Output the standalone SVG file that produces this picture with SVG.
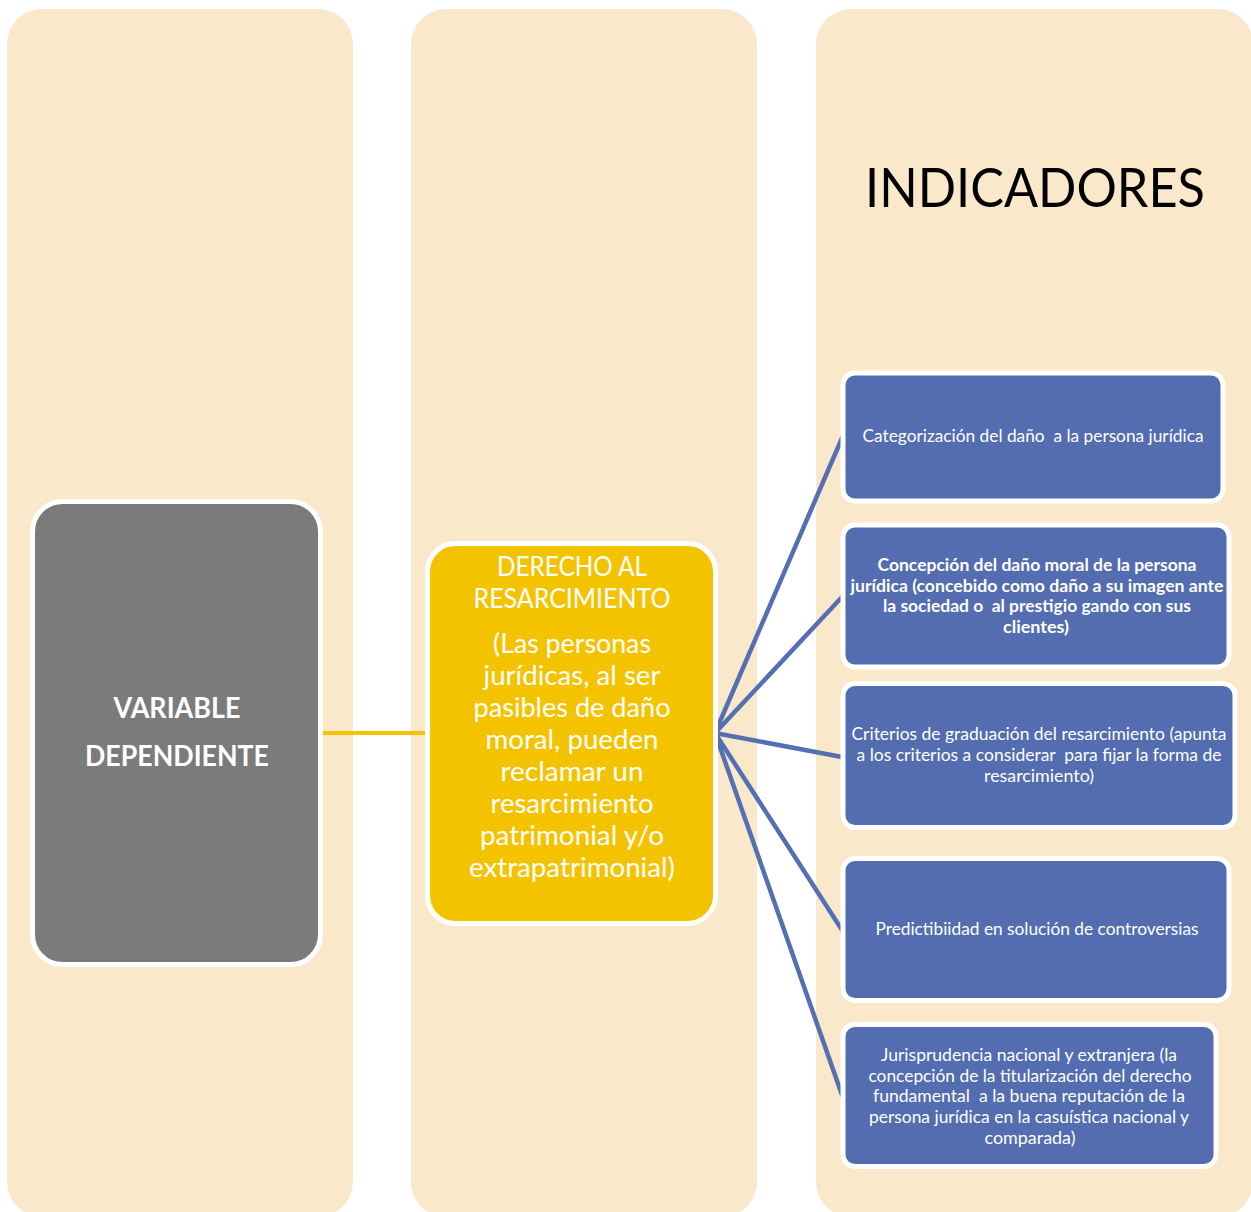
<svg xmlns="http://www.w3.org/2000/svg" width="1251" height="1212" viewBox="0 0 1251 1212">
<style>
.col{fill:#FAE8CB}
.blue{fill:#536DB0;stroke:#FFFFFF;stroke-width:5}
.wt{fill:#FFFFFF;font-family:Lato,"Liberation Sans",sans-serif;text-anchor:middle;white-space:pre}
.bt{font-size:16.5px}
.bb{font-size:16.5px;font-weight:bold}
.conn{stroke:#5470B3;stroke-width:4.5;fill:none;stroke-linecap:round}
</style>
<rect width="1251" height="1212" fill="#FFFFFF"/>
<g id="columns">
<rect class="col" x="7" y="9" width="346" height="1208" rx="35"/>
<rect class="col" x="411" y="9" width="346" height="1208" rx="35"/>
<rect class="col" x="816" y="9" width="437" height="1208" rx="35"/>
</g>
<g id="title">
<text x="1035" y="207" font-family="Lato,'Liberation Sans',sans-serif" font-size="54" fill="#000000" text-anchor="middle" textLength="340" lengthAdjust="spacingAndGlyphs">INDICADORES</text>
</g>
<g id="connectors">
<line x1="321" y1="733" x2="426" y2="733" stroke="#F4C300" stroke-width="4"/>
<line class="conn" x1="715" y1="733" x2="842" y2="438"/>
<line class="conn" x1="715" y1="733" x2="842" y2="597"/>
<line class="conn" x1="715" y1="733" x2="842" y2="757"/>
<line class="conn" x1="715" y1="733" x2="842" y2="930"/>
<line class="conn" x1="715" y1="733" x2="842" y2="1095"/>
</g>
<g id="variable">
<rect x="32.5" y="501.5" width="288" height="463" rx="30" fill="#7B7B7B" stroke="#FFFFFF" stroke-width="5"/>
<text class="wt" x="177" y="718" font-size="28" font-weight="bold" textLength="127" lengthAdjust="spacingAndGlyphs">VARIABLE</text>
<text class="wt" x="177" y="766" font-size="28" font-weight="bold" textLength="184" lengthAdjust="spacingAndGlyphs">DEPENDIENTE</text>
</g>
<g id="derecho">
<rect x="427.5" y="543.5" width="288" height="380" rx="28" fill="#F4C300" stroke="#FFFFFF" stroke-width="5"/>
<text class="wt" x="572" y="576" font-size="26" textLength="150" lengthAdjust="spacingAndGlyphs">DERECHO AL</text>
<text class="wt" x="572" y="608" font-size="26" textLength="197" lengthAdjust="spacingAndGlyphs">RESARCIMIENTO</text>
<text class="wt" x="572" y="653" font-size="27" textLength="158" lengthAdjust="spacingAndGlyphs">(Las personas</text>
<text class="wt" x="572" y="685" font-size="27" textLength="177" lengthAdjust="spacingAndGlyphs">jurídicas, al ser</text>
<text class="wt" x="572" y="717" font-size="27" textLength="197" lengthAdjust="spacingAndGlyphs">pasibles de daño</text>
<text class="wt" x="572" y="749" font-size="27" textLength="173" lengthAdjust="spacingAndGlyphs">moral, pueden</text>
<text class="wt" x="572" y="781" font-size="27" textLength="143" lengthAdjust="spacingAndGlyphs">reclamar un</text>
<text class="wt" x="572" y="813" font-size="27" textLength="163" lengthAdjust="spacingAndGlyphs">resarcimiento</text>
<text class="wt" x="572" y="845" font-size="27" textLength="184" lengthAdjust="spacingAndGlyphs">patrimonial y/o</text>
<text class="wt" x="572" y="877" font-size="27" textLength="206" lengthAdjust="spacingAndGlyphs">extrapatrimonial)</text>
</g>
<g id="ind1">
<rect class="blue" x="843" y="373" width="380" height="128" rx="12"/>
<text class="wt bt" x="1033" y="442" textLength="341" lengthAdjust="spacingAndGlyphs">Categorización del daño  a la persona jurídica</text>
</g>
<g id="ind2">
<rect class="blue" x="843" y="525" width="386" height="142" rx="12"/>
<text class="wt bb" x="1037" y="571" textLength="319" lengthAdjust="spacingAndGlyphs">Concepción del daño moral de la persona</text>
<text class="wt bb" x="1037" y="592" textLength="373" lengthAdjust="spacingAndGlyphs">jurídica (concebido como daño a su imagen ante</text>
<text class="wt bb" x="1037" y="612" textLength="308" lengthAdjust="spacingAndGlyphs">la sociedad o  al prestigio gando con sus</text>
<text class="wt bb" x="1036" y="633" textLength="66" lengthAdjust="spacingAndGlyphs">clientes)</text>
</g>
<g id="ind3">
<rect class="blue" x="843" y="683.5" width="392" height="144" rx="12"/>
<text class="wt bt" x="1039" y="740" textLength="375" lengthAdjust="spacingAndGlyphs">Criterios de graduación del resarcimiento (apunta</text>
<text class="wt bt" x="1039" y="761" textLength="365" lengthAdjust="spacingAndGlyphs">a los criterios a considerar  para fijar la forma de</text>
<text class="wt bt" x="1039" y="782" textLength="110" lengthAdjust="spacingAndGlyphs">resarcimiento)</text>
</g>
<g id="ind4">
<rect class="blue" x="843" y="858.5" width="386" height="142" rx="12"/>
<text class="wt bt" x="1037" y="935" textLength="323" lengthAdjust="spacingAndGlyphs">Predictibiidad en solución de controversias</text>
</g>
<g id="ind5">
<rect class="blue" x="843" y="1024.5" width="373" height="142" rx="12"/>
<text class="wt bt" x="1029" y="1061" textLength="296" lengthAdjust="spacingAndGlyphs">Jurisprudencia nacional y extranjera (la</text>
<text class="wt bt" x="1030" y="1082" textLength="323" lengthAdjust="spacingAndGlyphs">concepción de la titularización del derecho</text>
<text class="wt bt" x="1029" y="1102" textLength="312" lengthAdjust="spacingAndGlyphs">fundamental  a la buena reputación de la</text>
<text class="wt bt" x="1029" y="1123" textLength="320" lengthAdjust="spacingAndGlyphs">persona jurídica en la casuística nacional y</text>
<text class="wt bt" x="1030" y="1144" textLength="91" lengthAdjust="spacingAndGlyphs">comparada)</text>
</g>
</svg>
